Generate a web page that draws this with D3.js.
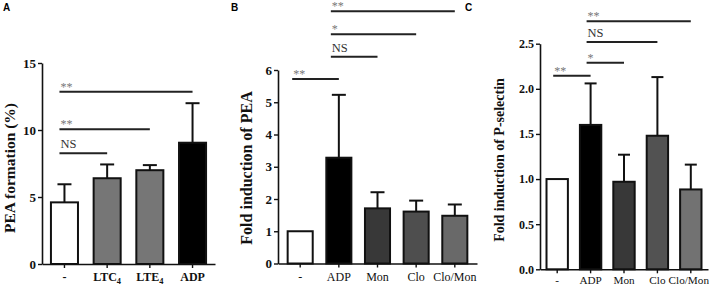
<!DOCTYPE html>
<html>
<head>
<meta charset="utf-8">
<script src="https://cdn.jsdelivr.net/npm/d3@7"></script>
<style>
body{margin:0;background:#fff;}
svg{display:block;}
</style>
</head>
<body>
<div id="chart-area"></div>
<script>
// panel A
var catsA=["-","LTC4","LTE4","ADP"];
var meanA=[4.6,6.4,7.0,9.05];
var sdA=[1.35,1.03,0.38,2.95];
var colorsA=["#ffffff","#767676","#767676","#000000"];
var ticksA=[0,5,10,15];
var sigA=[["-","ADP",12.85,"**"],["-","LTE4",10.05,"**"],["-","LTC4",8.27,"NS"]];

// panel B
var catsB=["-","ADP","Mon","Clo","Clo/Mon"];
var meanB=[1.0,3.28,1.71,1.61,1.48];
var sdB=[0,1.95,0.5,0.34,0.35];
var colorsB=["#ffffff","#000000","#383838","#4e4e4e","#696969"];
var ticksB=[0,1,2,3,4,5,6];
var sigB=[["-","ADP",5.72,"**"],["ADP","Mon",6.41,"NS"],["ADP","Clo",7.11,"*"],["ADP","Clo/Mon",7.82,"**"]];

// panel C
var catsC=["-","ADP","Mon","Clo","Clo/Mon"];
var meanC=[1.0,1.60,0.97,1.48,0.885];
var sdC=[0,0.46,0.30,0.65,0.275];
var colorsC=["#ffffff","#000000","#383838","#525252","#727272"];
var ticksC=[0,0.5,1.0,1.5,2.0,2.5];
var sigC=[["-","ADP",2.145,"**"],["ADP","Mon",2.29,"*"],["ADP","Clo",2.52,"NS"],["ADP","Clo/Mon",2.75,"**"]];

var W=709, H=286;
var svg=d3.select("#chart-area").append("svg")
    .attr("width",W)
    .attr("height",H);

var serif="'Liberation Serif','Times New Roman',serif";

function panel(p){
    var g=svg.append("g");

    var x=d3.scaleBand()
        .domain(p.cats)
        .range([p.left,p.right])
        .paddingInner(p.padIn)
        .paddingOuter(p.padOut);

    var y=d3.scaleLinear()
        .domain([0,p.max])
        .range([p.bottom,p.top]);

    var data=p.cats.map((c,i)=>{return {cat:c,mean:p.mean[i],sd:p.sd[i],color:p.colors[i]};});

    // bars
    g.selectAll("rect.bar").data(data).enter()
        .append("rect")
        .attr("class","bar")
        .attr("x",(d)=>{return x(d.cat)+1;})
        .attr("y",(d)=>{return y(d.mean);})
        .attr("width",x.bandwidth()-2)
        .attr("height",(d)=>{return y(0)-y(d.mean);})
        .attr("fill",(d)=>{return d.color;})
        .attr("stroke","#111")
        .attr("stroke-width",2);

    // error bars (upper only)
    var err=data.filter((d)=>{return d.sd>0;});
    g.selectAll("line.err").data(err).enter()
        .append("line")
        .attr("x1",(d)=>{return x(d.cat)+x.bandwidth()/2;})
        .attr("x2",(d)=>{return x(d.cat)+x.bandwidth()/2;})
        .attr("y1",(d)=>{return y(d.mean);})
        .attr("y2",(d)=>{return y(d.mean+d.sd);})
        .attr("stroke","#111")
        .attr("stroke-width",2);
    g.selectAll("line.cap").data(err).enter()
        .append("line")
        .attr("x1",(d)=>{return x(d.cat)+x.bandwidth()/2-p.cap;})
        .attr("x2",(d)=>{return x(d.cat)+x.bandwidth()/2+p.cap;})
        .attr("y1",(d)=>{return y(d.mean+d.sd);})
        .attr("y2",(d)=>{return y(d.mean+d.sd);})
        .attr("stroke","#111")
        .attr("stroke-width",2);

    // y axis
    var leftAxis=d3.axisLeft(y)
        .tickValues(p.ticks)
        .tickSize(4)
        .tickSizeOuter(0)
        .tickFormat(p.fmt);
    var ya=g.append("g")
        .attr("transform","translate("+p.left+",0)")
        .call(leftAxis);
    ya.select(".domain").attr("stroke","#111").attr("stroke-width",1.6);
    ya.selectAll(".tick line").attr("stroke","#111").attr("stroke-width",1.4);
    ya.selectAll(".tick text")
        .attr("x",-6)
        .attr("font-family",serif)
        .attr("font-weight","bold")
        .attr("font-size",p.tickSize+"px")
        .attr("fill","#111");

    // x axis
    var bottomAxis=d3.axisBottom(x)
        .tickSize(4)
        .tickSizeOuter(0);
    var xa=g.append("g")
        .attr("transform","translate(0,"+p.bottom+")")
        .call(bottomAxis);
    xa.select(".domain").attr("stroke","#111").attr("stroke-width",1.6);
    xa.selectAll(".tick line").attr("stroke","#111").attr("stroke-width",1.4);
    xa.selectAll(".tick text").remove();
    xa.selectAll(".tick").each(function(d){
        var t=d3.select(this).append("text")
            .attr("y",p.labelY)
            .attr("text-anchor","middle")
            .attr("font-family",serif)
            .attr("font-weight",p.labelBold?"bold":"normal")
            .attr("font-size",p.labelSize+"px")
            .attr("fill","#111");
        var m=d.match(/^(.*?)(\d)$/);
        if(m){
            t.append("tspan").text(m[1]);
            t.append("tspan").attr("font-size",(p.labelSize*0.7)+"px").attr("dy",3).text(m[2]);
        }else{
            t.text(d);
        }
        // keep the label inside the picture
        var cx=x(d)+x.bandwidth()/2;
        var w=t.node().getComputedTextLength();
        if(cx+w/2>W){
            t.attr("x",W-w/2-cx);
        }
    });

    // significance lines
    var c=(k)=>{return x(k)+x.bandwidth()/2;};
    g.selectAll("line.sig").data(p.sig).enter()
        .append("line")
        .attr("x1",(d)=>{return c(d[0])-p.sigPad;})
        .attr("x2",(d)=>{return c(d[1]);})
        .attr("y1",(d)=>{return y(d[2]);})
        .attr("y2",(d)=>{return y(d[2]);})
        .attr("stroke","#222")
        .attr("stroke-width",2);
    g.selectAll("text.sig").data(p.sig).enter()
        .append("text")
        .attr("x",(d)=>{return c(d[0])-p.sigPad+1;})
        .attr("y",(d)=>{return y(d[2])-(d[3]=="NS"?5:1);})
        .attr("font-family",serif)
        .attr("font-size",(d)=>{return d[3]=="NS"?"12.5px":"12px";})
        .attr("fill",(d)=>{return d[3]=="NS"?"#333":"#777";})
        .text((d)=>{return d[3];});

    // y title
    g.append("text")
        .attr("transform","translate("+p.titleX+","+p.titleY+") rotate(-90)")
        .attr("text-anchor","middle")
        .attr("font-family",serif)
        .attr("font-weight","bold")
        .attr("font-size",p.titleSize+"px")
        .attr("fill","#111")
        .text(p.title);

    // panel letter
    g.append("text")
        .attr("x",p.letterX)
        .attr("y",11)
        .attr("font-family","'Liberation Sans',Arial,sans-serif")
        .attr("font-weight","bold")
        .attr("font-size","10px")
        .text(p.letter);
}

panel({cats:catsA,mean:meanA,sd:sdA,colors:colorsA,ticks:ticksA,sig:sigA,
    left:42,right:215,padIn:0.32,padOut:0.186,max:15,bottom:264,top:63,
    fmt:d3.format("d"),cap:7,tickSize:13,labelY:17,labelSize:12,labelBold:true,sigPad:5,
    title:"PEA formation (%)",titleX:15,titleY:168,titleSize:15.5,letter:"A",letterX:3});

panel({cats:catsB,mean:meanB,sd:sdB,colors:colorsB,ticks:ticksB,sig:sigB,
    left:278,right:477,padIn:0.30,padOut:0.224,max:6,bottom:263.5,top:70,
    fmt:d3.format("d"),cap:7,tickSize:13,labelY:17,labelSize:12,labelBold:false,sigPad:8,
    title:"Fold induction of PEA",titleX:252,titleY:168,titleSize:16,letter:"B",letterX:231});

panel({cats:catsC,mean:meanC,sd:sdC,colors:colorsC,ticks:ticksC,sig:sigC,
    left:540,right:708,padIn:0.30,padOut:0.165,max:2.5,bottom:269.3,top:43.7,
    fmt:d3.format(".1f"),cap:6,tickSize:12,labelY:15,labelSize:11.2,labelBold:false,sigPad:4,
    title:"Fold induction of P-selectin",titleX:504,titleY:160,titleSize:14,letter:"C",letterX:465});
</script>
</body>
</html>
